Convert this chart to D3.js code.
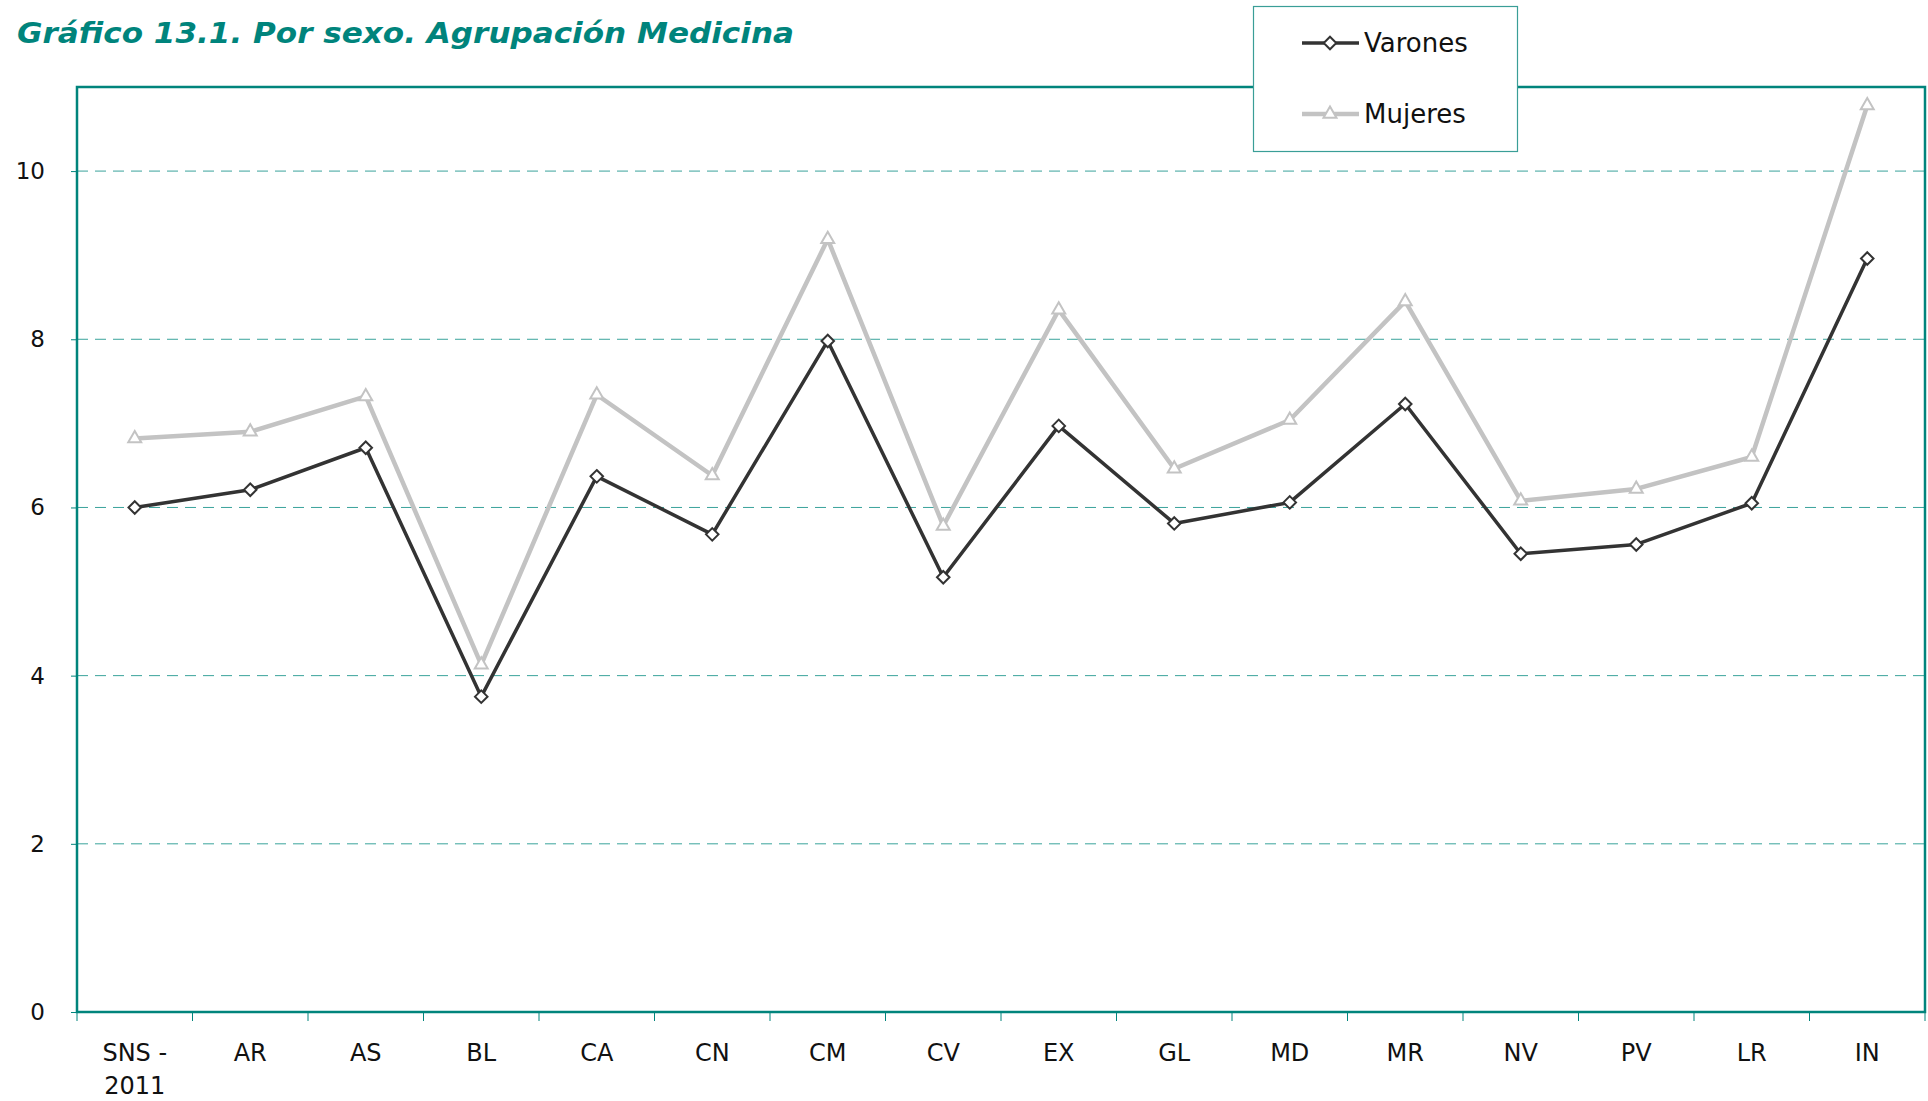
<!DOCTYPE html>
<html>
<head>
<meta charset="utf-8">
<script src="https://cdn.jsdelivr.net/npm/d3@7"></script>
<style>
  body { margin: 0; background: #fff; }
  svg { display: block; }
  .title { font-family: "DejaVu Sans", Verdana, sans-serif; font-weight: bold; font-style: italic; fill: #00847c; }
  .ytick text { font-family: "DejaVu Sans", Verdana, sans-serif; font-size: 23px; fill: #111; }
  .xlab { font-family: "DejaVu Sans", Verdana, sans-serif; font-size: 24px; fill: #111; }
  .legend text { font-family: "DejaVu Sans", Verdana, sans-serif; font-size: 26px; fill: #111; }
</style>
</head>
<body>
<svg id="chart" width="1928" height="1101"></svg>
<script>
// categories and values
const categories = ['SNS - 2011', 'AR', 'AS', 'BL', 'CA', 'CN', 'CM', 'CV', 'EX', 'GL', 'MD', 'MR', 'NV', 'PV', 'LR', 'IN'];
const varones = [6.00, 6.21, 6.71, 3.75, 6.37, 5.68, 7.98, 5.17, 6.97, 5.81, 6.06, 7.23, 5.45, 5.56, 6.05, 8.96];
const mujeres = [6.82, 6.90, 7.32, 4.13, 7.34, 6.38, 9.19, 5.78, 8.35, 6.46, 7.04, 8.45, 6.08, 6.22, 6.60, 10.78];
const yTicks = [0, 2, 4, 6, 8, 10];

const teal = '#00847c';
const margin = {left: 77, top: 87, right: 3, bottom: 89};
const width = 1928, height = 1101;

const svg = d3.select('#chart');

const x = d3.scaleBand()
  .domain(categories)
  .range([margin.left, width - margin.right]);

const y = d3.scaleLinear()
  .domain([0, 11])
  .range([height - margin.bottom, margin.top]);

// title
svg.append('text')
  .attr('class', 'title')
  .attr('x', 17)
  .attr('y', 43)
  .attr('font-size', 29)
  .attr('textLength', 777)
  .attr('lengthAdjust', 'spacingAndGlyphs')
  .text('Gráfico 13.1. Por sexo. Agrupación Medicina');

// gridlines
svg.append('g')
  .selectAll('line')
  .data(yTicks.filter(d => d > 0))
  .join('line')
    .attr('x1', margin.left)
    .attr('x2', width - margin.right)
    .attr('y1', d => y(d))
    .attr('y2', d => y(d))
    .attr('stroke', '#3aa39b')
    .attr('stroke-width', 1)
    .attr('stroke-dasharray', '11,7');

// y axis
const yAxis = svg.append('g')
  .attr('class', 'ytick')
  .attr('transform', `translate(${margin.left},0)`)
  .call(d3.axisLeft(y).tickValues(yTicks).tickSize(6).tickPadding(26).tickFormat(d3.format('d')));
yAxis.select('.domain').remove();
yAxis.selectAll('line').attr('stroke', teal);

// x ticks at band boundaries
const bounds = categories.map(c => x(c)).concat([x.range()[1]]);
svg.append('g')
  .selectAll('line')
  .data(bounds)
  .join('line')
    .attr('x1', d => d)
    .attr('x2', d => d)
    .attr('y1', y(0))
    .attr('y2', y(0) + 9)
    .attr('stroke', teal)
    .attr('stroke-width', 1);

// plot frame
svg.append('rect')
  .attr('x', margin.left)
  .attr('y', margin.top)
  .attr('width', width - margin.right - margin.left)
  .attr('height', y(0) - margin.top)
  .attr('fill', 'none')
  .attr('stroke', teal)
  .attr('stroke-width', 2.5);

// x labels
const xl = svg.append('g')
  .selectAll('text')
  .data(categories)
  .join('text')
    .attr('class', 'xlab')
    .attr('text-anchor', 'middle')
    .attr('x', d => x(d) + x.bandwidth() / 2)
    .attr('y', 1061);
xl.each(function(d) {
  const parts = d === 'SNS - 2011' ? ['SNS -', '2011'] : [d];
  d3.select(this).selectAll('tspan')
    .data(parts)
    .join('tspan')
      .attr('x', x(d) + x.bandwidth() / 2)
      .attr('dy', (p, i) => i ? 33 : 0)
      .text(p => p);
});

const cx = (d, i) => x(categories[i]) + x.bandwidth() / 2;
const line = d3.line().x(cx).y(d => y(d));

const diamond = d3.symbol().type(d3.symbolDiamond2).size(100);
const triangle = d3.symbol().type(d3.symbolTriangle2).size(120);

const series = [
  {name: 'Mujeres', values: mujeres, color: '#c3c3c3', width: 4.5, marker: triangle},
  {name: 'Varones', values: varones, color: '#333333', width: 3.5, marker: diamond}
];

series.forEach(s => {
  svg.append('path')
    .datum(s.values)
    .attr('fill', 'none')
    .attr('stroke', s.color)
    .attr('stroke-width', s.width)
    .attr('stroke-linejoin', 'round')
    .attr('d', line);
  svg.append('g')
    .selectAll('path')
    .data(s.values)
    .join('path')
      .attr('d', s.marker)
      .attr('transform', (d, i) => `translate(${cx(d, i)},${y(d)})`)
      .attr('fill', '#fff')
      .attr('stroke', s.color)
      .attr('stroke-width', 2);
});

// legend
const lg = svg.append('g').attr('class', 'legend');
lg.append('rect')
  .attr('x', 1253.5).attr('y', 6.5)
  .attr('width', 264).attr('height', 145)
  .attr('fill', '#fff')
  .attr('stroke', '#3a9e97')
  .attr('stroke-width', 1.2);

const legendItems = [series[1], series[0]];
legendItems.forEach((s, i) => {
  const ly = 43 + i * 71;
  lg.append('line')
    .attr('x1', 1302).attr('x2', 1359)
    .attr('y1', ly).attr('y2', ly)
    .attr('stroke', s.color)
    .attr('stroke-width', s.width);
  lg.append('path')
    .attr('d', s.marker)
    .attr('transform', `translate(1330,${ly})`)
    .attr('fill', '#fff')
    .attr('stroke', s.color)
    .attr('stroke-width', 2);
  lg.append('text')
    .attr('x', 1364)
    .attr('y', ly + 9)
    .text(s.name);
});
</script>
</body>
</html>
